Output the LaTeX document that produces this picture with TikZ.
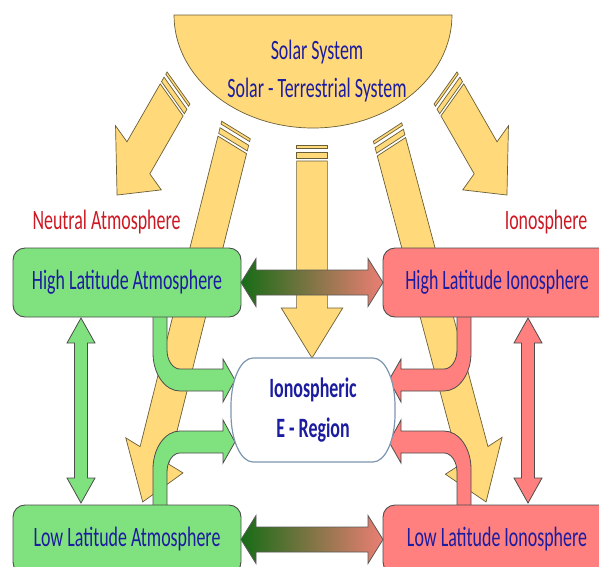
\documentclass[tikz,border=0pt]{standalone}
\usepackage{graphicx}
\usepackage{fontspec}
\setmainfont{Carlito}
\usetikzlibrary{calc}

\definecolor{raygold}{RGB}{255,217,122}
\definecolor{rayedge}{RGB}{105,95,55}
\definecolor{atmgreen}{RGB}{128,226,126}
\definecolor{ionred}{RGB}{255,128,126}
\definecolor{textblue}{RGB}{28,28,160}
\definecolor{realmred}{RGB}{205,25,35}
\definecolor{eedge}{RGB}{125,150,175}
\definecolor{xdark}{RGB}{22,108,22}
\definecolor{xmid}{RGB}{152,186,112}
\definecolor{xsalmon}{RGB}{236,126,116}

% narrow text, as in the picture
\newcommand{\condensed}[1]{\scalebox{0.64}[1]{#1}}

% striped block arrow: tail x, tail y, angle, length
\newcommand{\sunray}[4]{%
  \begin{scope}[shift={(#1,#2)}, rotate=#3]
    \filldraw[ray] (0,-24) rectangle (3,24);
    \filldraw[ray] (7,-24) rectangle (13,24);
    \filldraw[ray] (16,-24) -- ({#4-50},-24) -- ({#4-50},-48) -- (#4,0)
      -- ({#4-50},48) -- ({#4-50},24) -- (16,24) -- cycle;
  \end{scope}}

\begin{document}
\begin{tikzpicture}[
        x=1pt, y=-1pt,
        ray/.style={fill=raygold, draw=rayedge, line width=0.7pt}, % Sun and rays
        panel/.style={rounded corners=12pt, minimum width=228pt, minimum height=69pt,
          draw=black!70, line width=0.9pt, text=textblue, font=\fontsize{28}{32}\selectfont},
        atmbox/.style={panel, fill=atmgreen},
        ionbox/.style={panel, fill=ionred},
        eframe/.style={fill=white, draw=eedge, line width=1.2pt},
        etext/.style={align=center, text=textblue, font=\bfseries\fontsize{28}{40}\selectfont},
        realm/.style={text=realmred, font=\fontsize{28}{32}\selectfont},
        atmflow/.style={fill=atmgreen, draw=black!70, line width=0.8pt},
        ionflow/.style={fill=ionred, draw=black!70, line width=0.8pt},
        feed/.pic={
          \filldraw[pic actions] (-159,-96) -- (-159,-58)
            arc[start angle=180, end angle=90, x radius=27, y radius=38]
            -- (-89,-20) -- (-89,-9) -- (-77,-31) -- (-89,-52) -- (-89,-42) -- (-132,-42)
            arc[start angle=90, end angle=180, x radius=13, y radius=19]
            -- (-145,-96) -- cycle;
        },
        linkv/.pic={
          \filldraw[pic actions] (0,-92.5) -- (14,-67.5) -- (6.5,-67.5) -- (6.5,67.5)
            -- (14,67.5) -- (0,92.5) -- (-14,67.5) -- (-6.5,67.5) -- (-6.5,-67.5)
            -- (-14,-67.5) -- cycle;
        },
        exchange/.pic={
          \path[draw=black!65, line width=0.8pt, left color=xdark, middle color=xmid,
            right color=xsalmon]
            (-71,0) -- (-56,-24) -- (-56,-12.5) -- (56,-12.5) -- (56,-24) -- (71,0)
            -- (56,24) -- (56,12.5) -- (-56,12.5) -- (-56,24) -- cycle;
        }
        ]
        \clip (0,0) rectangle (599,566);

        % Draw sun rays
        \begin{scope}[xscale=0.64]
          \sunray{278.9}{88}{-131.9}{143.8}
          \sunray{368.75}{130}{-111.4}{399.5}
          \sunray{487.5}{145}{-90}{213}
          \sunray{605.5}{132}{-67.4}{400.7}
          \sunray{696.1}{88}{-48.1}{143.8}
        \end{scope}

        % Draw sun
        \filldraw[ray] (174,15) arc[start angle=180, end angle=0, x radius=139, y radius=113] -- cycle;
        \node (sun) [align=center, text=textblue, font=\fontsize{28}{38}\selectfont] at (317,71)
          {\condensed{Solar System}\\\condensed{Solar - Terrestrial System}};

        % Define nodes
        \coordinate (ecentre) at (312,411);
        \pic[atmflow] at (ecentre) {feed};
        \pic[atmflow, yscale=-1] at (ecentre) {feed};
        \pic[ionflow, xscale=-1] at (ecentre) {feed};
        \pic[ionflow, scale=-1] at (ecentre) {feed};

        \node (hiatm) [atmbox] at (127,282.5) {\condensed{High Latitude Atmosphere}};
        \node (hiion) [ionbox] at (497,282.5) {\condensed{High Latitude Ionosphere}};
        \node (loatm) [atmbox] at (127,539.5) {\condensed{Low Latitude Atmosphere}};
        \node (loion) [ionbox] at (497,539.5) {\condensed{Low Latitude Ionosphere}};

        \filldraw[eframe] (253,358) -- (373,358)
          arc[start angle=-90, end angle=0, x radius=22, y radius=48] -- (395,414)
          arc[start angle=0, end angle=90, x radius=22, y radius=48] -- (253,462)
          arc[start angle=90, end angle=180, x radius=22, y radius=48] -- (231,406)
          arc[start angle=180, end angle=270, x radius=22, y radius=48] -- cycle;
        \node (ereg) [etext] at (313,410) {\condensed{Ionospheric}\\\condensed{E - Region}};

        % Draw arrows
        \pic[atmflow] at (81,410.5) {linkv};
        \pic[ionflow] at (528,410.5) {linkv};
        \pic at ($(hiatm.east)!0.5!(hiion.west)$) {exchange};
        \pic at ($(loatm.east)!0.5!(loion.west)$) {exchange};

        \node (neutral) [realm] at (106.5,222) {\condensed{Neutral Atmosphere}};
        \node (iono) [realm] at (546,222) {\condensed{Ionosphere}};

    \end{tikzpicture}
\end{document}
